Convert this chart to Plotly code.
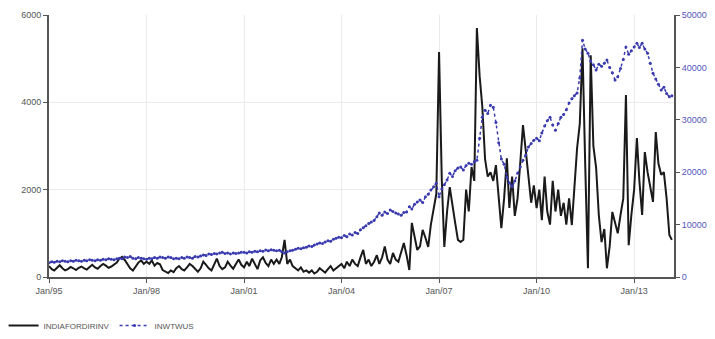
import plotly.graph_objects as go
import pandas as pd

# Monthly values, Jan 1995 .. Mar 2014
india_fdi = [
    250, 180, 150, 220, 270, 200, 150, 180, 230, 200, 160, 210,      # 1995
    240, 200, 170, 230, 280, 220, 190, 250, 300, 260, 210, 240,      # 1996
    280, 330, 420, 460, 390, 300, 200, 150, 250, 330, 380, 300,      # 1997
    350, 300, 380, 260, 320, 290, 160, 120, 90, 150, 110, 200,       # 1998
    250, 180, 150, 220, 300, 250, 180, 120, 200, 350, 280, 200,      # 1999
    150, 300, 420, 250, 180, 220, 350, 260, 190, 300, 400, 280,      # 2000
    220, 350, 250, 420, 300, 180, 380, 450, 320, 250, 400, 300,      # 2001
    400, 300, 450, 850, 300, 400, 250, 200, 150, 220, 120, 150,      # 2002
    100, 150, 80, 120, 200, 150, 100, 180, 250, 150, 200, 250,       # 2003
    300, 200, 350, 250, 400, 300, 250, 450, 620, 300, 400, 250,      # 2004
    350, 500, 300, 450, 700, 400, 300, 550, 400, 350, 600, 780,      # 2005
    500, 160, 1240, 900, 620, 700, 1080, 900, 690, 1200, 1600, 1900, # 2006
    5150, 2200, 690, 1500, 2060, 1600, 1240, 850, 800, 850, 2000, 1500,   # 2007
    2520, 2200, 5700, 4600, 3900, 2700, 2300, 2400, 2200, 2560, 1800, 1120,  # 2008
    1800, 2720, 1580, 2300, 1400, 1800, 2600, 3480, 2900, 2340, 1700, 2100,  # 2009
    1580, 2000, 1300, 2300, 1500, 1200, 2200, 1500, 2000, 1400, 1700, 1200,  # 2010
    1800, 1190, 2000, 2950, 3500, 5240, 2600, 200, 5080, 3000, 2500, 1420,   # 2011
    800, 1100, 200, 700, 1490, 1260, 1000, 1420, 1800, 4170, 730, 1420,      # 2012
    2000, 3180, 2200, 1420, 2860, 2400, 2040, 1720, 3320, 2600, 2340, 2400,  # 2013
    1800, 960, 850,                                                          # 2014
]

inwtwus = [
    2700, 2900, 2800, 3000, 2900, 3100, 3000, 2900, 3100, 3000, 3200, 3100,   # 1995
    3000, 3200, 3100, 3300, 3200, 3100, 3300, 3200, 3400, 3300, 3500, 3400,   # 1996
    3300, 3500, 3600, 3500, 3800, 3700, 3900, 3600, 3500, 3700, 3600, 3500,   # 1997
    3400, 3600, 3500, 3700, 3600, 3800, 3700, 3600, 3800, 3700, 3500, 3600,   # 1998
    3500, 3700, 3600, 3800, 3700, 3600, 3900, 3800, 4000, 4200, 4100, 4400,   # 1999
    4300, 4500, 4400, 4600, 4700, 4500, 4600, 4400, 4600, 4500, 4600, 4700,   # 2000
    4700, 4600, 4800, 4700, 4900, 4800, 5000, 4900, 5150, 5000, 5200, 5100,   # 2001
    5000, 5100, 4800, 4600, 4800, 5000, 5100, 5300, 5500, 5400, 5600, 5700,   # 2002
    5900, 5800, 6100, 6300, 6500, 6400, 6700, 6900, 6800, 7200, 7400, 7600,   # 2003
    7500, 7900, 7700, 8200, 8000, 8500, 8300, 9000, 9400, 9800, 10200, 10500, # 2004
    10800, 11500, 12200, 11800, 12400, 12100, 12800, 12500, 12200, 12000, 11800, 12300,  # 2005
    12400, 13400, 13000, 13900, 14300, 14700, 14200, 15300, 15800, 16600, 17200, 17900,  # 2006
    15300, 16800, 17600, 18500, 19800, 19200, 20300, 20800, 21000, 20400, 21300, 21700,  # 2007
    21500, 22000, 22300, 26500, 30500, 31800, 31200, 32800, 32400, 29500, 25600, 22500,  # 2008
    21500, 19100, 18000, 17200, 18300, 19800, 21000, 22300, 23300, 24800, 25500, 26100,  # 2009
    26500, 26000, 27500, 28800, 29800, 30500, 29000, 28000, 29300, 30500, 31000, 31900,  # 2010
    33200, 34000, 34600, 35100, 38000, 45200, 43500, 42700, 41200, 40500, 39500, 40600,  # 2011
    40200, 40800, 41400, 40000, 39000, 37600, 38200, 39800, 41500, 43900, 42500, 43200,  # 2012
    43900, 44600, 43800, 44600, 43500, 42700, 40800, 38900, 37800, 36800, 35700, 36200,  # 2013
    35000, 34400, 34600,                                                                  # 2014
]

dates = pd.date_range("1995-01-01", periods=len(india_fdi), freq="MS")

left_ticks = [0, 2000, 4000, 6000]
right_ticks = [0, 10000, 20000, 30000, 40000, 50000]

font = dict(family="Liberation Sans, Arial, sans-serif", size=9, color="#555555")

fig = go.Figure()
fig.add_trace(go.Scatter(
    x=dates, y=india_fdi, name="INDIAFORDIRINV", mode="lines",
    line=dict(color="#1a1a1a", width=2), yaxis="y"))
fig.add_trace(go.Scatter(
    x=dates, y=inwtwus, name="INWTWUS", mode="lines+markers",
    line=dict(color="#3b3bb0", width=1.5, dash="dot"),
    marker=dict(size=3, color="#3b3bb0"), yaxis="y2"))

fig.update_layout(
    width=715, height=339,
    margin=dict(l=49, r=41, t=15, b=62, autoexpand=False),
    paper_bgcolor="white", plot_bgcolor="white",
    font=font,
    showlegend=True,
    legend=dict(orientation="h", xref="container", yref="container",
                x=0.005, y=0.04, xanchor="left", yanchor="middle",
                font=dict(family="Liberation Sans, Arial, sans-serif", size=8, color="#555555"),
                itemwidth=30, tracegroupgap=0),
    xaxis=dict(
        type="date", range=["1995-01-01", "2014-03-25"],
        tick0="1995-01-01", dtick="M36", tickformat="%b/%y",
        showgrid=True, gridcolor="#ebebeb", gridwidth=1,
        showline=True, linecolor="#555555", linewidth=2,
        ticks="outside", ticklen=4, tickcolor="#555555",
        zeroline=False, automargin=False),
    yaxis=dict(
        range=[0, 6000], tickvals=left_ticks, tickformat="d",
        showgrid=True, gridcolor="#ebebeb", gridwidth=1,
        showline=True, linecolor="#555555", linewidth=2,
        ticks="outside", ticklen=4, tickcolor="#555555",
        zeroline=False, automargin=False),
    yaxis2=dict(
        range=[0, 50000], tickvals=right_ticks, tickformat="d",
        overlaying="y", side="right",
        showgrid=False,
        showline=True, linecolor="#555555", linewidth=2,
        ticks="outside", ticklen=4, tickcolor="#555555",
        tickfont=dict(color="#5555bb"),
        zeroline=False, automargin=False),
)

fig.write_html("out.html")
